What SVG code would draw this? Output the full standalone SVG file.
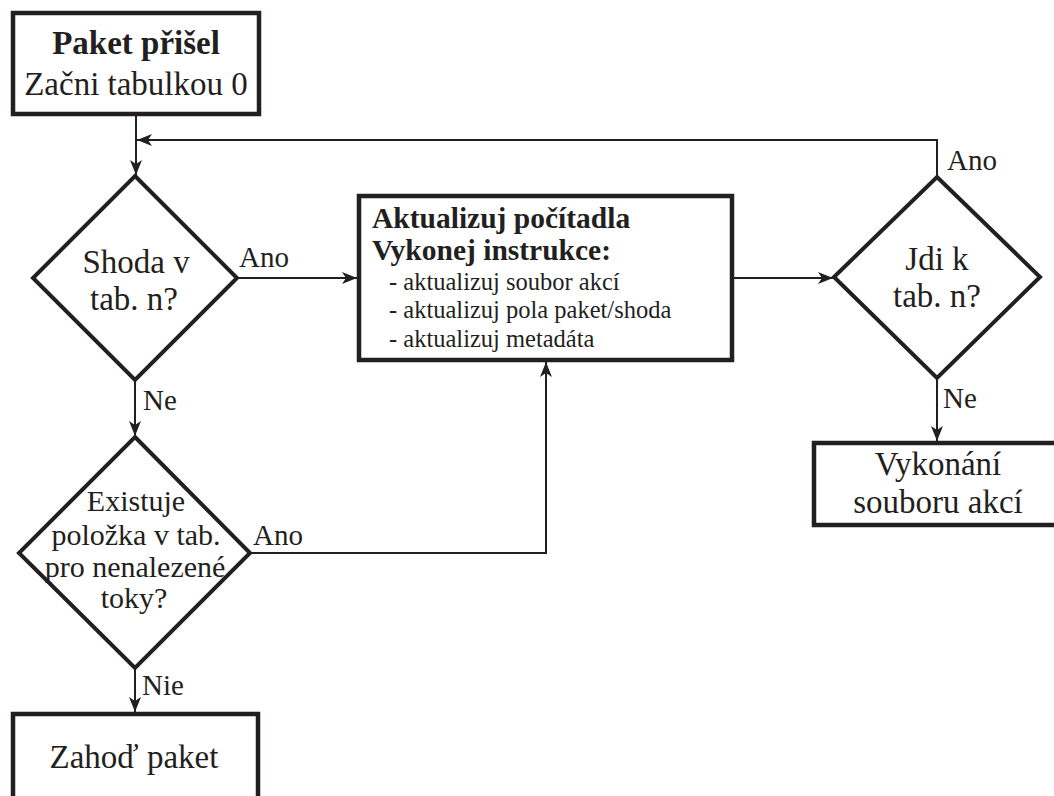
<svg xmlns="http://www.w3.org/2000/svg" width="1054" height="796" viewBox="0 0 1054 796">
<defs>
<marker id="arr" markerUnits="userSpaceOnUse" markerWidth="16" markerHeight="14" refX="15" refY="6" orient="auto">
<path d="M0,0 L15,6 L0,12 L4,6 Z" fill="#231f20"/>
</marker>
<style>
.box{fill:#fff;stroke:#231f20;stroke-width:4.5}
.dia{fill:#fff;stroke:#231f20;stroke-width:4}
.con{fill:none;stroke:#231f20;stroke-width:2}
text{fill:#231f20}
.t33{font-size:33px;text-anchor:middle}
.t30{font-size:30px;text-anchor:middle}
.lbl{font-size:29px}
.b30{font-size:29.5px;font-weight:bold}
.i24{font-size:24.5px}
</style>
</defs>
<rect width="1054" height="796" fill="#fff"/>
<g font-family="Liberation Serif, Tinos, DejaVu Serif, serif">
<g id="connectors">
<path class="con" d="M136,115 V175" marker-end="url(#arr)"/>
<path class="con" d="M937,176 V140 H137" marker-end="url(#arr)"/>
<path class="con" d="M237,278 H357" marker-end="url(#arr)"/>
<path class="con" d="M135,380 V436" marker-end="url(#arr)"/>
<path class="con" d="M250,553 H546 V362" marker-end="url(#arr)"/>
<path class="con" d="M135,668 V712" marker-end="url(#arr)"/>
<path class="con" d="M732,278 H833" marker-end="url(#arr)"/>
<path class="con" d="M937,378 V441" marker-end="url(#arr)"/>
<text class="lbl" x="239" y="267">Ano</text>
<text class="lbl" x="143" y="410">Ne</text>
<text class="lbl" x="253" y="545">Ano</text>
<text class="lbl" x="142" y="695">Nie</text>
<text class="lbl" x="947" y="170">Ano</text>
<text class="lbl" x="943" y="408">Ne</text>
</g>
<g id="start">
<rect class="box" x="13" y="13" width="246" height="101"/>
<text class="t33" x="136" y="54" font-weight="bold">Paket přišel</text>
<text class="t33" x="136" y="95">Začni tabulkou 0</text>
</g>
<g id="match">
<polygon class="dia" points="135,176 237,278 135,380 33,278"/>
<text class="t33" x="136" y="273">Shoda v</text>
<text class="t33" x="134" y="310">tab. n?</text>
</g>
<g id="missentry">
<polygon class="dia" points="135,437 250,553 135,668 19,553"/>
<text class="t30" x="136" y="511">Existuje</text>
<text class="t30" x="136" y="545">položka v tab.</text>
<text class="t30" x="135" y="577">pro nenalezené</text>
<text class="t30" x="134" y="608">toky?</text>
</g>
<g id="drop">
<rect class="box" x="13" y="714" width="245" height="100"/>
<text class="t33" x="134" y="768">Zahoď paket</text>
</g>
<g id="update">
<rect class="box" x="359" y="196" width="373" height="164"/>
<text class="b30" x="372" y="228">Aktualizuj počítadla</text>
<text class="b30" x="372" y="260">Vykonej instrukce:</text>
<text class="i24" x="389" y="290">- aktualizuj soubor akcí</text>
<text class="i24" x="389" y="318">- aktualizuj pola paket/shoda</text>
<text class="i24" x="389" y="347">- aktualizuj metadáta</text>
</g>
<g id="goto">
<polygon class="dia" points="937,177 1040,277 937,378 834,277"/>
<text class="t33" x="937" y="270">Jdi k</text>
<text class="t33" x="937" y="307">tab. n?</text>
</g>
<g id="execute">
<rect class="box" x="814" y="443" width="260" height="82"/>
<text class="t33" x="938" y="475">Vykonání</text>
<text class="t33" x="938" y="513">souboru akcí</text>
</g>
</g>
</svg>
